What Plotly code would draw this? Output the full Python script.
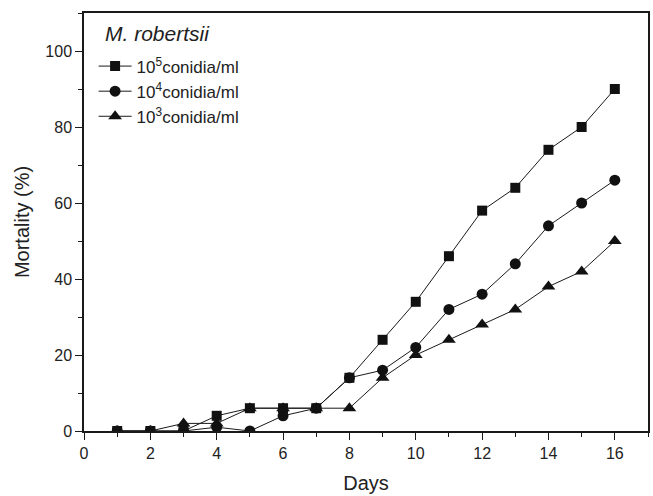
import plotly.graph_objects as go

days = list(range(1, 17))
conc_5 = [0, 0, 0, 4, 6, 6, 6, 14, 24, 34, 46, 58, 64, 74, 80, 90]
conc_4 = [0, 0, 0, 1, 0, 4, 6, 14, 16, 22, 32, 36, 44, 54, 60, 66]
conc_3 = [0, 0, 2, 2, 6, 6, 6, 6, 14, 20, 24, 28, 32, 38, 42, 50]
names = ["10<sup>5</sup>conidia/ml", "10<sup>4</sup>conidia/ml", "10<sup>3</sup>conidia/ml"]
symbols = ["square", "circle", "triangle-up"]
sizes = [10, 11, 12]
legend_title = "<i>M. robertsii</i>"
x_ticks = [0, 2, 4, 6, 8, 10, 12, 14, 16]
y_ticks = [0, 20, 40, 60, 80, 100]

FONT = "Liberation Sans, Arial, sans-serif"

fig = go.Figure()
for vals, name, sym, sz in zip([conc_5, conc_4, conc_3], names, symbols, sizes):
    fig.add_trace(go.Scatter(
        x=days, y=vals, name=name, mode="lines+markers",
        line=dict(color="#1a1a1a", width=1),
        marker=dict(symbol=sym, size=sz, color="#111111"),
    ))

axis_common = dict(
    showline=True, linecolor="#1a1a1a", linewidth=1.5, mirror=True,
    ticks="outside", ticklen=7, tickwidth=1.3, tickcolor="#1a1a1a",
    showgrid=False, zeroline=False,
    tickfont=dict(family=FONT, size=16, color="#222222"),
    title_font=dict(family=FONT, size=20, color="#222222"),
)

fig.update_xaxes(
    range=[0, 17], tickvals=x_ticks, title_text="Days", title_standoff=15,
    minor=dict(ticks="outside", ticklen=4, tickwidth=1.2, tickcolor="#1a1a1a", dtick=1, showgrid=False),
    **axis_common,
)
fig.update_yaxes(
    range=[0, 110], tickvals=y_ticks, title_text="Mortality (%)", title_standoff=10,
    minor=dict(ticks="outside", ticklen=4, tickwidth=1.2, tickcolor="#1a1a1a", dtick=10, showgrid=False),
    **axis_common,
)

fig.add_annotation(
    text=legend_title, xref="paper", yref="paper", x=0.033, y=0.952,
    xanchor="left", yanchor="middle", showarrow=False,
    font=dict(family=FONT, size=21, color="#222222"),
)

fig.update_layout(
    width=653, height=496,
    margin=dict(l=84, r=3, t=13, b=65),
    paper_bgcolor="white", plot_bgcolor="white",
    font=dict(family=FONT, color="#222222"),
    legend=dict(
        x=0.017, y=0.915, xanchor="left", yanchor="top",
        bgcolor="rgba(0,0,0,0)",
        font=dict(family=FONT, size=17, color="#222222"),
        tracegroupgap=0, itemwidth=33,
    ),
    showlegend=True,
)

fig.write_html(
    "out.html",
    config={"displayModeBar": False},
    post_script="document.body.style.margin='0';document.body.style.padding='0';document.body.style.overflow='hidden';",
)
